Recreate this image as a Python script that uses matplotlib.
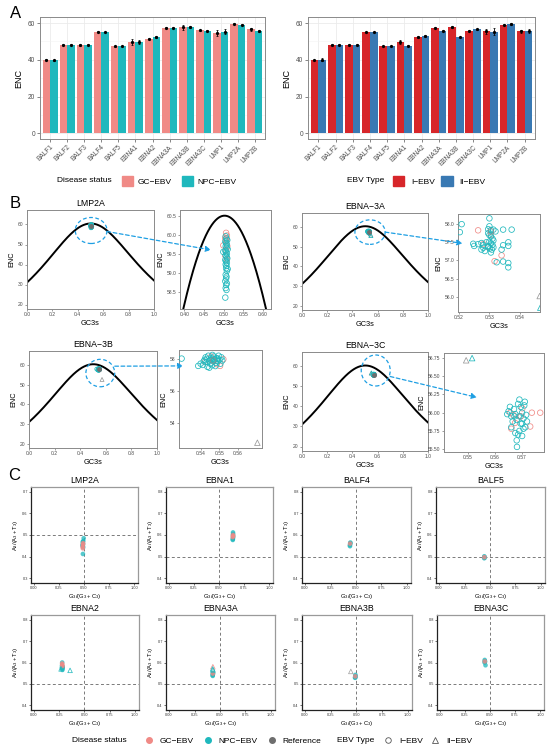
import numpy as np
import matplotlib
matplotlib.use('Agg')
import matplotlib.pyplot as plt
from matplotlib.patches import Ellipse, Patch, ConnectionPatch
from matplotlib.lines import Line2D

plt.rcParams['font.family'] = ['Liberation Sans', 'DejaVu Sans']
plt.rcParams['mathtext.fontset'] = 'custom'
plt.rcParams['mathtext.rm'] = 'Liberation Sans'
plt.rcParams['mathtext.it'] = 'Liberation Sans:italic'

# ---------------- data: panel A ----------------
genes = ['BALF1', 'BALF2', 'BALF3', 'BALF4', 'BALF5', 'EBNA1', 'EBNA2',
         'EBNA3A', 'EBNA3B', 'EBNA3C', 'LMP1', 'LMP2A', 'LMP2B']
gc_enc = [40.0, 48.3, 48.1, 55.3, 47.4, 49.8, 51.6, 57.5, 57.6, 56.0, 54.7, 59.6, 56.6]
gc_err = [0.3, 0.3, 0.3, 0.2, 0.2, 1.5, 0.4, 0.4, 1.3, 0.2, 1.8, 0.3, 0.8]
npc_enc = [39.8, 48.2, 48.2, 55.2, 47.5, 49.6, 52.3, 57.5, 58.0, 55.9, 55.3, 59.1, 55.7]
npc_err = [0.3, 0.2, 0.3, 0.2, 0.2, 1.0, 0.5, 0.3, 0.5, 0.2, 1.5, 0.3, 0.8]
t1_enc = [40.0, 48.2, 48.2, 55.2, 47.5, 49.7, 52.3, 57.5, 57.9, 55.9, 55.6, 59.2, 55.6]
t1_err = [0.2, 0.2, 0.2, 0.2, 0.2, 1.0, 0.5, 0.3, 0.4, 0.2, 1.3, 0.3, 0.8]
t2_enc = [40.2, 48.3, 48.2, 55.2, 47.6, 47.7, 52.8, 55.8, 52.5, 56.6, 55.4, 59.6, 55.6]
t2_err = [0.8, 0.2, 0.2, 0.1, 0.2, 0.2, 0.6, 0.3, 0.2, 0.2, 1.8, 0.5, 1.2]

# ---------------- data: panel B (GC3s, ENC) ----------------
lmp2a_gc = [(0.506, 60.05), (0.508, 59.98), (0.504, 59.92), (0.507, 59.85), (0.499, 59.72),
            (0.509, 59.70), (0.506, 59.60), (0.504, 59.45), (0.508, 59.35), (0.505, 59.88)]
lmp2a_npc = [(0.505, 59.96), (0.507, 59.90), (0.509, 59.86), (0.504, 59.82), (0.506, 59.78),
             (0.508, 59.74), (0.505, 59.70), (0.507, 59.66), (0.510, 59.62), (0.504, 59.58),
             (0.506, 59.54), (0.508, 59.50), (0.505, 59.46), (0.507, 59.42), (0.509, 59.38),
             (0.504, 59.34), (0.506, 59.30), (0.508, 59.26), (0.505, 59.22), (0.507, 59.18),
             (0.506, 59.12), (0.508, 59.05), (0.505, 58.95), (0.507, 58.90), (0.506, 58.85),
             (0.504, 58.78), (0.508, 58.72), (0.506, 58.68), (0.505, 58.60), (0.507, 58.55),
             (0.504, 58.35), (0.499, 59.55), (0.510, 59.10)]
lmp2a_ref = [(0.505, 59.30)]

e3a_gc = [(0.5263, 57.83), (0.5296, 57.36), (0.5340, 57.14), (0.5317, 56.98),
          (0.5280, 57.45), (0.5305, 57.70)]
e3a_npc = [(0.5209, 58.00), (0.5300, 58.16), (0.5300, 57.94), (0.5296, 57.86), (0.5305, 57.84),
           (0.5313, 57.85), (0.5320, 57.80), (0.5345, 57.85), (0.5373, 57.85), (0.5203, 57.78),
           (0.5247, 57.46), (0.5263, 57.45), (0.5274, 57.48), (0.5280, 57.42), (0.5290, 57.50),
           (0.5296, 57.75), (0.5300, 57.70), (0.5305, 57.66), (0.5310, 57.60), (0.5313, 57.55),
           (0.5300, 57.52), (0.5305, 57.47), (0.5310, 57.43), (0.5296, 57.38), (0.5302, 57.33),
           (0.5308, 57.30), (0.5313, 57.36), (0.5274, 57.30), (0.5285, 57.26), (0.5296, 57.40),
           (0.5305, 57.22), (0.5340, 57.30), (0.5362, 57.50), (0.5345, 57.42), (0.5362, 57.40),
           (0.5324, 56.95), (0.5345, 56.97), (0.5362, 56.93), (0.5362, 56.81), (0.5250, 57.40),
           (0.5280, 57.35)]
e3a_ref = [(0.5305, 57.80)]
e3a_ref_tri = [(0.5465, 56.02)]
e3a_npc_tri = [(0.5467, 55.70)]

e3b_gc = [(0.5422, 57.81), (0.5485, 57.67), (0.5503, 57.56), (0.5521, 57.98),
          (0.5470, 57.90), (0.5455, 58.15)]
e3b_npc = [(0.5295, 58.02), (0.5385, 57.56), (0.5398, 57.70), (0.5410, 57.62), (0.5420, 57.95),
           (0.5425, 58.10), (0.5430, 57.80), (0.5435, 57.50), (0.5440, 58.20), (0.5445, 57.90),
           (0.5450, 57.70), (0.5455, 58.05), (0.5460, 57.60), (0.5465, 57.85), (0.5470, 58.15),
           (0.5475, 57.95), (0.5480, 57.75), (0.5485, 58.05), (0.5490, 57.85), (0.5495, 58.20),
           (0.5500, 57.95), (0.5505, 57.70), (0.5510, 58.10), (0.5515, 57.90), (0.5445, 57.45),
           (0.5462, 58.25), (0.5478, 57.55), (0.5432, 58.00), (0.5452, 57.95), (0.5468, 58.00),
           (0.5490, 58.00), (0.5415, 57.85)]
e3b_ref = [(0.5465, 57.90)]
e3b_ref_tri = [(0.5705, 52.73)]
e3b_npc_tri = []

e3c_gc = [(0.5656, 56.00), (0.5736, 56.00), (0.5767, 56.00), (0.5730, 55.81),
          (0.5674, 55.86), (0.5667, 55.97), (0.5701, 56.06), (0.5660, 55.78)]
e3c_npc = [(0.5650, 56.02), (0.5660, 55.95), (0.5665, 55.88), (0.5670, 56.05), (0.5675, 55.98),
           (0.5680, 55.90), (0.5685, 56.12), (0.5690, 55.95), (0.5695, 56.08), (0.5700, 55.85),
           (0.5700, 56.00), (0.5705, 55.92), (0.5710, 56.15), (0.5712, 55.80), (0.5715, 55.97),
           (0.5690, 55.75), (0.5685, 55.70), (0.5680, 55.62), (0.5695, 55.85), (0.5705, 55.78),
           (0.5675, 55.72), (0.5660, 55.80), (0.5645, 55.98), (0.5655, 56.08), (0.5718, 55.88),
           (0.5700, 55.68), (0.5681, 55.53), (0.5690, 56.18), (0.5672, 55.95), (0.5708, 56.10)]
e3c_ref = [(0.5695, 55.95)]
e3c_ref_tri = [(0.5493, 56.72)]
e3c_npc_tri = [(0.5515, 56.75)]

# ---------------- data: panel C (G3/(G3+C3), A3/(A3+T3)) ----------------
c_lmp2a_gc = [(0.487, 0.445), (0.490, 0.455), (0.488, 0.438), (0.491, 0.462)]
c_lmp2a_npc = [(0.486, 0.452), (0.490, 0.460), (0.488, 0.448), (0.492, 0.443), (0.487, 0.468),
               (0.489, 0.412), (0.497, 0.485), (0.493, 0.472), (0.489, 0.456)]
c_ebna1_gc = [(0.640, 0.600), (0.637, 0.590), (0.642, 0.595)]
c_ebna1_npc = [(0.638, 0.580), (0.640, 0.585), (0.642, 0.592), (0.639, 0.598),
               (0.641, 0.605), (0.640, 0.612), (0.638, 0.577)]
c_balf4_gc = [(0.442, 0.560)]
c_balf4_npc = [(0.440, 0.552), (0.443, 0.558), (0.445, 0.565), (0.441, 0.548), (0.444, 0.562)]
c_balf5_gc = [(0.445, 0.497)]
c_balf5_npc = [(0.443, 0.492), (0.446, 0.498), (0.444, 0.501), (0.447, 0.494)]
c_ebna2_gc = [(0.280, 0.590), (0.282, 0.583), (0.278, 0.595)]
c_ebna2_npc = [(0.275, 0.575), (0.280, 0.570), (0.283, 0.580), (0.277, 0.585),
               (0.281, 0.565), (0.279, 0.600), (0.284, 0.575)]
c_ebna2_npc_tri = [(0.357, 0.563), (0.268, 0.570)]
c_ebna3a_gc = [(0.430, 0.548)]
c_ebna3a_npc = [(0.428, 0.540), (0.430, 0.545), (0.432, 0.552), (0.429, 0.537), (0.431, 0.548)]
c_ebna3a_gc_tri = [(0.430, 0.580)]
c_ebna3a_npc_tri = [(0.428, 0.570), (0.431, 0.565)]
c_ebna3b_gc = [(0.488, 0.535)]
c_ebna3b_npc = [(0.486, 0.530), (0.489, 0.537), (0.490, 0.542), (0.487, 0.528), (0.491, 0.533)]
c_ebna3b_ref_tri = [(0.445, 0.558)]
c_ebna3c_gc = [(0.448, 0.605)]
c_ebna3c_npc = [(0.446, 0.600), (0.449, 0.607), (0.447, 0.612), (0.450, 0.603), (0.455, 0.587)]

PINK = '#F08A86'
TEAL = '#1FB8BD'
GREY = '#6E6E6E'
RED = '#D7262A'
BLUE = '#3979B3'
ARROW = '#1E9FE3'
TXT = '#4D4D4D'

W, H = 550, 751
fig = plt.figure(figsize=(5.5, 7.51), dpi=100)


def px_axes(x0, y0, x1, y1):
    return fig.add_axes([x0 / W, 1 - y1 / H, (x1 - x0) / W, (y1 - y0) / H])


def xy(pairs):
    if len(pairs) == 0:
        return [], []
    a = np.array(pairs)
    return a[:, 0], a[:, 1]


def enc_curve(s):
    return 2 + s + 29 / (s ** 2 + (1 - s) ** 2)


# ---------------- panel A ----------------
def bar_panel(ax, v1, e1, v2, e2, c1, c2):
    x = np.arange(1, len(genes) + 1)
    ax.set_axisbelow(True)
    ax.bar(x - 0.225, v1, width=0.45, color=c1, zorder=2)
    ax.bar(x + 0.225, v2, width=0.45, color=c2, zorder=2)
    for off, v, e in ((-0.225, v1, e1), (0.225, v2, e2)):
        ax.errorbar(x + off, v, yerr=e, fmt='o', ms=1.3, color='black',
                    elinewidth=0.6, capsize=1.0, capthick=0.5, zorder=3)
    ax.set_xlim(0.4, len(genes) + 0.6)
    ax.set_ylim(-3.0, 63.3)
    ax.set_yticks([0, 20, 40, 60])
    ax.set_yticks([10, 30, 50], minor=True)
    ax.set_xticks(x)
    ax.set_xticklabels(genes, rotation=45, ha='right', va='top', rotation_mode='anchor')
    ax.grid(True, which='major', color='#EBEBEB', lw=0.6)
    ax.grid(True, which='minor', axis='y', color='#F3F3F3', lw=0.4)
    ax.tick_params(which='minor', length=0)
    ax.tick_params(which='major', labelsize=4.7, labelcolor=TXT, length=2, width=0.5,
                   color='#555555', pad=1.5)
    for s in ax.spines.values():
        s.set_color('#8A8A8A')
        s.set_linewidth(0.7)
    ax.set_ylabel('ENC', fontsize=6.5, labelpad=3)


axA1 = px_axes(40, 17, 265, 139)
bar_panel(axA1, gc_enc, gc_err, npc_enc, npc_err, PINK, TEAL)
axA2 = px_axes(308, 17, 535, 139)
bar_panel(axA2, t1_enc, t1_err, t2_enc, t2_err, RED, BLUE)

fig.text(84 / W, 1 - 181 / H, 'Disease status', fontsize=6, ha='center', va='center')
fig.legend(handles=[Patch(color=PINK), Patch(color=TEAL)], labels=['GC−EBV', 'NPC−EBV'],
           loc='center left', bbox_to_anchor=(122 / W, 1 - 181 / H), ncol=2, frameon=False,
           fontsize=6, handlelength=1.35, handleheight=1.35, handletextpad=0.5,
           columnspacing=1.2, borderpad=0, borderaxespad=0)
fig.text(366 / W, 1 - 181 / H, 'EBV Type', fontsize=6, ha='center', va='center')
fig.legend(handles=[Patch(color=RED), Patch(color=BLUE)], labels=['I−EBV', 'II−EBV'],
           loc='center left', bbox_to_anchor=(393 / W, 1 - 181 / H), ncol=2, frameon=False,
           fontsize=6, handlelength=1.35, handleheight=1.35, handletextpad=0.8,
           columnspacing=0.8, borderpad=0, borderaxespad=0)


# ---------------- panel B ----------------
def style_b(ax):
    for s in ax.spines.values():
        s.set_color('#8A8A8A')
        s.set_linewidth(0.7)
    ax.tick_params(labelsize=3.6, labelcolor=TXT, length=1.5, width=0.4, color='#555555', pad=1)
    ax.set_xlabel('GC3s', fontsize=5.3, labelpad=1.5)
    ax.set_ylabel('ENC', fontsize=5.3, labelpad=1.5)


def scatter_b(ax, gc, npc, ref, ref_tri, npc_tri, size, ref_filled):
    x, y = xy(gc)
    ax.scatter(x, y, s=size, facecolors='none', edgecolors=PINK, linewidths=0.55, zorder=3)
    x, y = xy(npc)
    ax.scatter(x, y, s=size, facecolors='none', edgecolors=TEAL, linewidths=0.55, zorder=3)
    x, y = xy(ref)
    if ref_filled:
        ax.scatter(x, y, s=size * 0.8, color=GREY, zorder=4)
    else:
        ax.scatter(x, y, s=size, facecolors='none', edgecolors='#8C8C8C', linewidths=0.55, zorder=4)
    if ref_tri:
        x, y = xy(ref_tri)
        ax.scatter(x, y, s=size, marker='^', facecolors='none', edgecolors='#9A9A9A',
                   linewidths=0.55, zorder=3)
    if npc_tri:
        x, y = xy(npc_tri)
        ax.scatter(x, y, s=size, marker='^', facecolors='none', edgecolors=TEAL,
                   linewidths=0.55, zorder=3)


def main_b(rect, title, gc, npc, ref, ref_tri, npc_tri, ell):
    ax = px_axes(*rect)
    s = np.linspace(0, 1, 400)
    ax.plot(s, enc_curve(s), color='black', lw=1.4, zorder=2)
    ax.set_xlim(0, 1)
    ax.set_ylim(17.75, 67.25)
    ax.set_xticks([0, 0.2, 0.4, 0.6, 0.8, 1.0])
    ax.set_xticklabels(['0.0', '0.2', '0.4', '0.6', '0.8', '1.0'])
    ax.set_yticks([20, 30, 40, 50, 60])
    style_b(ax)
    scatter_b(ax, gc, npc, ref, ref_tri, npc_tri, 8, True)
    ax.add_patch(Ellipse(ell[0], ell[1], ell[2], fill=False, ec=ARROW, lw=0.9,
                         ls=(0, (3, 2)), zorder=5))
    ax.set_title(title, fontsize=6.3, pad=3)
    return ax


def inset_b(rect, gc, npc, ref, ref_tri, npc_tri, xlim, ylim, xt, xtl, yt, ytl):
    ax = px_axes(*rect)
    s = np.linspace(xlim[0], xlim[1], 300)
    ax.plot(s, enc_curve(s), color='black', lw=1.4, zorder=2)
    ax.set_xlim(*xlim)
    ax.set_ylim(*ylim)
    ax.set_xticks(xt)
    ax.set_xticklabels(xtl)
    ax.set_yticks(yt)
    ax.set_yticklabels(ytl)
    style_b(ax)
    scatter_b(ax, gc, npc, ref, ref_tri, npc_tri, 16, False)
    return ax


def arrow(axA, pA, axB, pB):
    con = ConnectionPatch(xyA=pA, coordsA=axA.transData, xyB=pB, coordsB=axB.transData,
                          arrowstyle='-|>', color=ARROW, lw=0.9, ls=(0, (3, 2)),
                          mutation_scale=8, zorder=10)
    fig.add_artist(con)


m1 = main_b((27, 210, 154, 309), 'LMP2A', lmp2a_gc, lmp2a_npc, lmp2a_ref, [], [],
            ((0.505, 57.0), 0.25, 13))
i1 = inset_b((180, 210, 271, 309), lmp2a_gc, lmp2a_npc, [], [], [],
             (0.389, 0.62), (58.05, 60.65),
             [0.40, 0.45, 0.50, 0.55, 0.60], ['0.40', '0.45', '0.50', '0.55', '0.60'],
             [58.5, 59.0, 59.5, 60.0, 60.5], ['58.5', '59.0', '59.5', '60.0', '60.5'])
arrow(m1, (0.63, 56.5), i1, (0.468, 59.6))

m2 = main_b((302, 213, 428, 310), 'EBNA−3A', e3a_gc, e3a_npc, e3a_ref, e3a_ref_tri,
            e3a_npc_tri, ((0.54, 57.5), 0.24, 12.5))
i2 = inset_b((458, 214, 540, 312), e3a_gc, e3a_npc, e3a_ref, e3a_ref_tri, e3a_npc_tri,
             (0.5197, 0.5466), (55.58, 58.28),
             [0.52, 0.53, 0.54], ['0.52', '0.53', '0.54'],
             [56.0, 56.5, 57.0, 57.5, 58.0], ['56.0', '56.5', '57.0', '57.5', '58.0'])
arrow(m2, (0.66, 57.5), i2, (0.5212, 57.47))

m3 = main_b((29, 351, 157, 448), 'EBNA−3B', e3b_gc, e3b_npc, e3b_ref, e3b_ref_tri,
            e3b_npc_tri, ((0.557, 56.0), 0.225, 14))
i3 = inset_b((179, 350, 262, 448), e3b_gc, e3b_npc, e3b_ref, e3b_ref_tri, e3b_npc_tri,
             (0.5281, 0.573), (52.4, 58.56),
             [0.54, 0.55, 0.56], ['0.54', '0.55', '0.56'],
             [54, 56, 58], ['54', '56', '58'])
arrow(m3, (0.67, 59.5), i3, (0.5305, 57.56))

m4 = main_b((302, 352, 428, 451), 'EBNA−3C', e3c_gc, e3c_npc, e3c_ref, e3c_ref_tri,
            e3c_npc_tri, ((0.585, 58.0), 0.23, 15.5))
i4 = inset_b((444, 353, 544, 452), e3c_gc, e3c_npc, e3c_ref, e3c_ref_tri, e3c_npc_tri,
             (0.5411, 0.5781), (55.46, 56.82),
             [0.55, 0.56, 0.57], ['0.55', '0.56', '0.57'],
             [55.50, 55.75, 56.00, 56.25, 56.50, 56.75],
             ['55.50', '55.75', '56.00', '56.25', '56.50', '56.75'])
arrow(m4, (0.70, 55.0), i4, (0.5533, 56.21))


# ---------------- panel C ----------------
def c_panel(rect, title, gc, npc, ylim, yt, gc_tri=(), npc_tri=(), ref_tri=()):
    ax = px_axes(*rect)
    ax.axvline(0.5, color='#7A7A7A', lw=0.7, ls=(0, (3, 2.5)), zorder=1)
    ax.axhline(0.5, color='#7A7A7A', lw=0.7, ls=(0, (3, 2.5)), zorder=1)
    x, y = xy(npc)
    ax.scatter(x, y, s=11, color=TEAL, alpha=0.75, edgecolors='none', zorder=3)
    x, y = xy(gc)
    ax.scatter(x, y, s=11, color=PINK, alpha=0.8, edgecolors='none', zorder=4)
    for pts, col in ((gc_tri, PINK), (npc_tri, TEAL), (ref_tri, '#A0A0A0')):
        if len(pts):
            x, y = xy(list(pts))
            ax.scatter(x, y, s=11, marker='^', facecolors='none', edgecolors=col,
                       linewidths=0.5, zorder=4)
    ax.set_xlim(-0.03, 1.04)
    ax.set_ylim(*ylim)
    ax.set_xticks([0, 0.25, 0.5, 0.75, 1.0])
    ax.set_xticklabels(['0.00', '0.25', '0.50', '0.75', '1.00'])
    ax.set_yticks(yt)
    ax.set_yticklabels(['%.1f' % v for v in yt])
    ax.tick_params(labelsize=2.8, labelcolor='#333333', length=1.3, width=0.4, pad=1)
    for k in ('left', 'bottom'):
        ax.spines[k].set_color('#222222')
        ax.spines[k].set_linewidth(0.9)
    for k in ('top', 'right'):
        ax.spines[k].set_color('#9A9A9A')
        ax.spines[k].set_linewidth(0.9)
    ax.set_xlabel(r'$\mathregular{G_3/(G_3+C_3)}$', fontsize=4.2, labelpad=1.5)
    ax.set_ylabel(r'$\mathregular{A_3/(A_3+T_3)}$', fontsize=4.2, labelpad=1.5)
    ax.set_title(title, fontsize=6.3, pad=3)
    return ax


Y1 = (0.277, 0.723)
Y2 = (0.377, 0.823)
T1 = [0.3, 0.4, 0.5, 0.6, 0.7]
T2 = [0.4, 0.5, 0.6, 0.7, 0.8]
c_panel((31, 487, 138, 583), 'LMP2A', c_lmp2a_gc, c_lmp2a_npc, Y1, T1)
c_panel((166, 487, 273, 583), 'EBNA1', c_ebna1_gc, c_ebna1_npc, Y2, T2)
c_panel((302, 487, 411, 583), 'BALF4', c_balf4_gc, c_balf4_npc, Y2, T2)
c_panel((436, 487, 545, 583), 'BALF5', c_balf5_gc, c_balf5_npc, Y2, T2)
c_panel((31, 615, 139, 710), 'EBNA2', c_ebna2_gc, c_ebna2_npc, Y2, T2,
        npc_tri=c_ebna2_npc_tri)
c_panel((166, 615, 275, 710), 'EBNA3A', c_ebna3a_gc, c_ebna3a_npc, Y2, T2,
        gc_tri=c_ebna3a_gc_tri, npc_tri=c_ebna3a_npc_tri)
c_panel((302, 615, 412, 710), 'EBNA3B', c_ebna3b_gc, c_ebna3b_npc, Y2, T2,
        ref_tri=c_ebna3b_ref_tri)
c_panel((437, 615, 544, 710), 'EBNA3C', c_ebna3c_gc, c_ebna3c_npc, Y2, T2)

# bottom legend
fig.text(99 / W, 1 - 741 / H, 'Disease status', fontsize=6, ha='center', va='center')
h1 = [Line2D([], [], ls='none', marker='o', ms=4, color=c) for c in (PINK, TEAL, GREY)]
fig.legend(handles=h1, labels=['GC−EBV', 'NPC−EBV', 'Reference'], loc='center left',
           bbox_to_anchor=(145 / W, 1 - 741 / H), ncol=3, frameon=False, fontsize=6,
           handlelength=1.0, handletextpad=0.7, columnspacing=1.3, borderpad=0,
           borderaxespad=0)
fig.text(356 / W, 1 - 741 / H, 'EBV Type', fontsize=6, ha='center', va='center')
h2 = [Line2D([], [], ls='none', marker=m, ms=4, mfc='none', mec='#555555', mew=0.6)
      for m in ('o', '^')]
fig.legend(handles=h2, labels=['I−EBV', 'II−EBV'], loc='center left',
           bbox_to_anchor=(384 / W, 1 - 741 / H), ncol=2, frameon=False, fontsize=6,
           handlelength=1.0, handletextpad=0.8, columnspacing=1.0, borderpad=0,
           borderaxespad=0)

# panel letters
fig.text(16 / W, 1 - 14 / H, 'A', fontsize=12, ha='center', va='center')
fig.text(15 / W, 1 - 204 / H, 'B', fontsize=12, ha='center', va='center')
fig.text(14 / W, 1 - 476 / H, 'C', fontsize=12, ha='center', va='center')

fig.savefig('out.png', dpi=100)
